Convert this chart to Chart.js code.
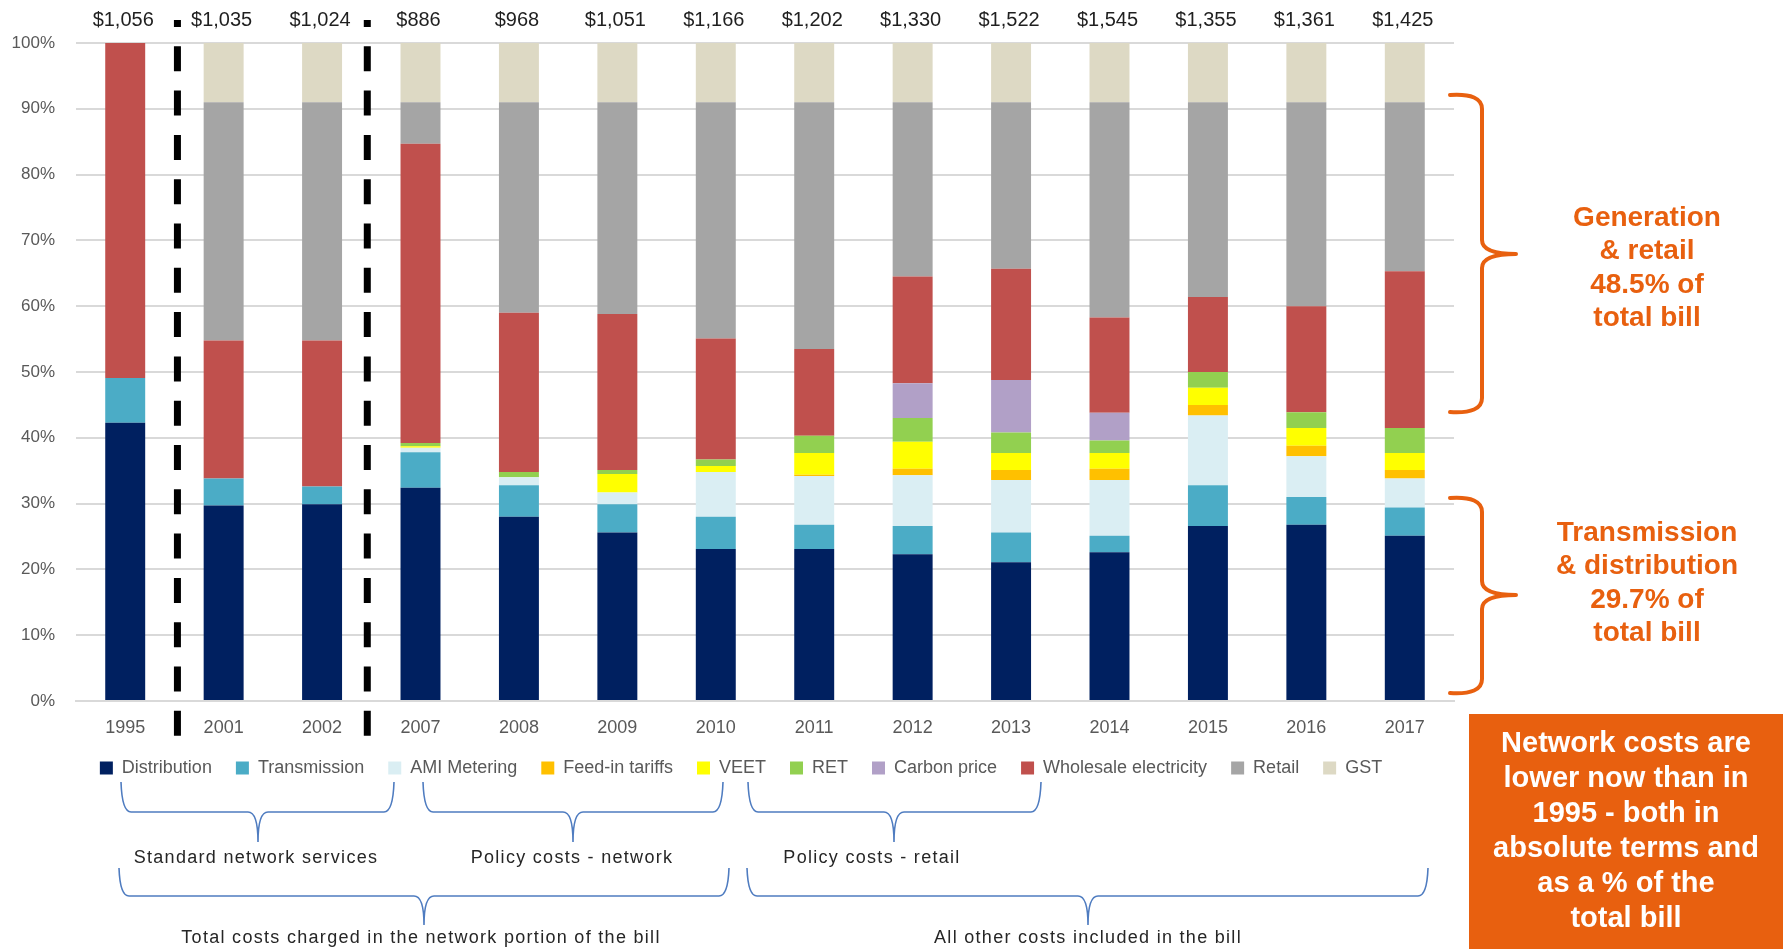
<!DOCTYPE html>
<html>
<head>
<meta charset="utf-8">
<title>Electricity bill components</title>
<script src="https://cdn.jsdelivr.net/npm/chart.js@4.4.1/dist/chart.umd.min.js"></script>
<style>
  html, body { margin: 0; padding: 0; background: #fff; }
  #wrap { position: relative; width: 1783px; height: 949px; }
</style>
</head>
<body>
<div id="wrap"><canvas id="billChart"></canvas></div>
<script>
// categories and bill totals
var years = ['1995', '2001', '2002', '2007', '2008', '2009', '2010', '2011', '2012', '2013', '2014', '2015', '2016', '2017'];
var totals = [1056, 1035, 1024, 886, 968, 1051, 1166, 1202, 1330, 1522, 1545, 1355, 1361, 1425];

// share of bill (%) per component
var distribution = [42.3, 29.7, 29.9, 32.4, 28.0, 25.6, 23.1, 23.1, 22.3, 21.1, 22.6, 26.6, 26.8, 25.1];
var transmission = [6.8, 4.1, 2.7, 5.4, 4.8, 4.3, 4.9, 3.7, 4.3, 4.5, 2.5, 6.2, 4.2, 4.3];
var amiMetering = [0, 0, 0, 0.7, 1.2, 1.8, 6.8, 7.4, 7.7, 8.0, 8.5, 10.6, 6.2, 4.4];
var feedInTariffs = [0, 0, 0, 0, 0, 0, 0, 0.2, 1.0, 1.5, 1.7, 1.6, 1.6, 1.3];
var veet = [0, 0, 0, 0.2, 0, 2.8, 0.9, 3.3, 4.1, 2.6, 2.4, 2.6, 2.7, 2.6];
var ret = [0, 0, 0, 0.5, 0.8, 0.6, 1.0, 2.6, 3.6, 3.1, 1.9, 2.4, 2.4, 3.8];
var carbonPrice = [0, 0, 0, 0, 0, 0, 0, 0, 5.3, 8.0, 4.2, 0, 0, 0];
var wholesale = [50.9, 21.0, 22.2, 45.5, 24.2, 23.7, 18.4, 13.2, 16.2, 16.9, 14.5, 11.4, 16.1, 23.8];
var retail = [0, 36.2, 36.2, 6.3, 32.0, 32.2, 35.9, 37.5, 26.5, 25.3, 32.7, 29.6, 31.0, 25.7];
var gst = [0, 9, 9, 9, 9, 9, 9, 9, 9, 9, 9, 9, 9, 9];

var yTicks = [0, 10, 20, 30, 40, 50, 60, 70, 80, 90, 100];

var FONT = "'Liberation Sans', Arial, sans-serif";
var ORANGE = '#E8600F';
var BLUE = '#4F7CC0';

function series(label, data, color) {
    return { label: label, data: data, backgroundColor: color, borderWidth: 0,
             categoryPercentage: 1, barPercentage: 0.406 };
}

// curly brace opening upward, tip pointing down
function braceDown(ctx, x1, x2, xTip, yTop, yMid, yTip) {
    ctx.beginPath();
    ctx.moveTo(x1, yTop);
    ctx.quadraticCurveTo(x1 + 1, yMid, x1 + 10, yMid);
    ctx.lineTo(xTip - 10, yMid);
    ctx.quadraticCurveTo(xTip, yMid, xTip, yTip);
    ctx.moveTo(x2, yTop);
    ctx.quadraticCurveTo(x2 - 1, yMid, x2 - 10, yMid);
    ctx.lineTo(xTip + 10, yMid);
    ctx.quadraticCurveTo(xTip, yMid, xTip, yTip);
    ctx.stroke();
}

// curly brace opening to the left, tip pointing right
function braceRight(ctx, xEnd, xLine, xTip, yTop, yTipY, yBot) {
    ctx.beginPath();
    ctx.moveTo(xEnd, yTop);
    ctx.quadraticCurveTo(xLine, yTop - 2, xLine, yTop + 14);
    ctx.lineTo(xLine, yTipY - 14);
    ctx.quadraticCurveTo(xLine, yTipY, xTip, yTipY);
    ctx.moveTo(xEnd, yBot);
    ctx.quadraticCurveTo(xLine, yBot + 2, xLine, yBot - 14);
    ctx.lineTo(xLine, yTipY + 14);
    ctx.quadraticCurveTo(xLine, yTipY, xTip, yTipY);
    ctx.stroke();
}

function lines(ctx, arr, x, y0, step) {
    arr.forEach(function(t, i) { ctx.fillText(t, x, y0 + i * step); });
}

// nudge the legend so it sits centred under the plot like the original
var legendShift = {
    id: 'legendShift',
    afterLayout: function(chart) {
        if (chart.legend) { chart.legend.left += 14; chart.legend.right += 14; }
    }
};

var extras = {
    id: 'extras',
    afterDraw: function(chart) {
        var ctx = chart.ctx;
        var xs = chart.scales.x;
        ctx.save();

        // dollar totals above bars
        ctx.fillStyle = '#1f1f1f';
        ctx.font = '20px ' + FONT;
        ctx.textAlign = 'center';
        ctx.textBaseline = 'middle';
        totals.forEach(function(v, i) {
            ctx.fillText('$' + v.toLocaleString('en-US'), xs.getPixelForValue(i) - 2, 20);
        });

        // dashed separators
        ctx.strokeStyle = '#000';
        ctx.lineWidth = 7;
        ctx.setLineDash([25, 19.3]);
        ctx.lineDashOffset = 18;
        [ (xs.getPixelForValue(0) + xs.getPixelForValue(1)) / 2 + 3,
          (xs.getPixelForValue(2) + xs.getPixelForValue(3)) / 2 - 4 ].forEach(function(x) {
            ctx.beginPath();
            ctx.moveTo(x, 20);
            ctx.lineTo(x, 737);
            ctx.stroke();
        });
        ctx.setLineDash([]);

        // blue braces under the legend
        ctx.strokeStyle = BLUE;
        ctx.lineWidth = 1.6;
        braceDown(ctx, 121, 394, 258, 782, 812, 842);
        braceDown(ctx, 423, 723, 573, 782, 812, 842);
        braceDown(ctx, 748, 1041, 894, 782, 812, 842);
        braceDown(ctx, 119, 729, 424, 868, 896, 925);
        braceDown(ctx, 747, 1428, 1088, 868, 896, 925);

        ctx.fillStyle = '#262626';
        ctx.font = '18px ' + FONT;
        ctx.letterSpacing = '1.3px';
        ctx.fillText('Standard network services', 256, 858);
        ctx.fillText('Policy costs - network', 572, 858);
        ctx.fillText('Policy costs - retail', 872, 858);
        ctx.fillText('Total costs charged in the network portion of the bill', 421, 938);
        ctx.fillText('All other costs included in the bill', 1088, 938);
        ctx.letterSpacing = '0px';

        // orange braces and notes on the right
        ctx.strokeStyle = ORANGE;
        ctx.lineWidth = 4;
        ctx.lineCap = 'round';
        braceRight(ctx, 1450, 1482, 1516, 95, 254, 412);
        braceRight(ctx, 1450, 1482, 1516, 498, 595, 693);

        ctx.fillStyle = ORANGE;
        ctx.font = 'bold 28px ' + FONT;
        lines(ctx, ['Generation', '& retail', '48.5% of', 'total bill'], 1647, 218, 33.4);
        lines(ctx, ['Transmission', '& distribution', '29.7% of', 'total bill'], 1647, 533, 33.4);

        // call-out box
        ctx.fillStyle = ORANGE;
        ctx.fillRect(1469, 714, 1783 - 1469, 949 - 714);
        ctx.fillStyle = '#fff';
        ctx.font = 'bold 29px ' + FONT;
        lines(ctx, ['Network costs are', 'lower now than in', '1995 - both in',
                    'absolute terms and', 'as a % of the', 'total bill'], 1626, 744, 35);

        ctx.restore();
    }
};

var ctx = document.getElementById('billChart').getContext('2d');
var billChart = new Chart(ctx, {
    type: 'bar',
    data: {
        labels: years,
        datasets: [
            series('Distribution', distribution, '#002060'),
            series('Transmission', transmission, '#4BACC6'),
            series('AMI Metering', amiMetering, '#DAEEF3'),
            series('Feed-in tariffs', feedInTariffs, '#FFC000'),
            series('VEET', veet, '#FFFF00'),
            series('RET', ret, '#92D050'),
            series('Carbon price', carbonPrice, '#B1A0C7'),
            series('Wholesale electricity', wholesale, '#C0504D'),
            series('Retail', retail, '#A5A5A5'),
            series('GST', gst, '#DDD9C4')
        ]
    },
    options: {
        responsive: true,
        maintainAspectRatio: false,
        animation: false,
        layout: { padding: { left: 0, right: 329, top: 43, bottom: 162 } },
        plugins: {
            tooltip: { enabled: false },
            legend: {
                position: 'bottom',
                labels: {
                    boxWidth: 13, boxHeight: 13, padding: 24,
                    color: '#595959',
                    font: { family: FONT, size: 18 }
                }
            }
        },
        scales: {
            x: {
                stacked: true,
                grid: { display: false, drawTicks: false },
                border: { display: true, color: '#D9D9D9', width: 2 },
                ticks: { color: '#595959', padding: 16, font: { family: FONT, size: 18 } },
                afterFit: function(axis) { axis.height = 34; }
            },
            y: {
                stacked: true,
                min: 0,
                max: 100,
                afterBuildTicks: function(axis) {
                    axis.ticks = yTicks.map(function(v) { return { value: v }; });
                },
                grid: { color: '#D9D9D9', lineWidth: 2, drawTicks: false },
                border: { display: false },
                ticks: {
                    color: '#595959', padding: 21,
                    font: { family: FONT, size: 17 },
                    callback: function(v) { return v + '%'; }
                },
                afterFit: function(axis) { axis.width = 76; }
            }
        }
    },
    plugins: [legendShift, extras]
});
</script>
</body>
</html>
